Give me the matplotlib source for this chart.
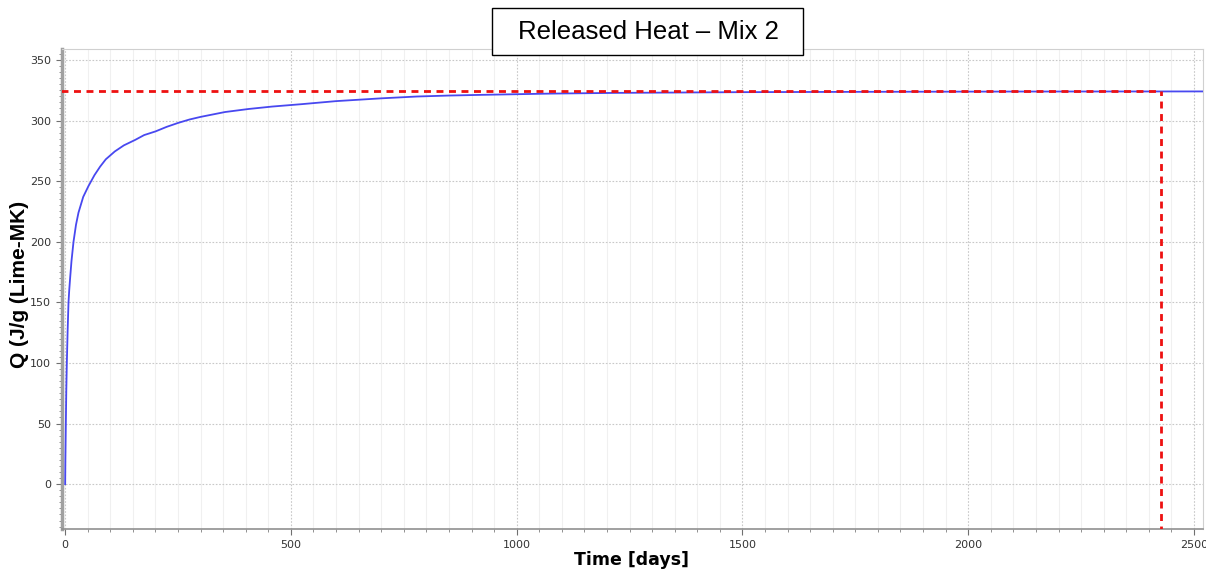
import matplotlib
matplotlib.use('Agg')
import matplotlib.pyplot as plt
from matplotlib.ticker import MultipleLocator
from matplotlib.patches import Rectangle

# values
time_days = [0, 0.5, 1.5, 2.5, 3.7, 5.5, 7.4, 9, 11, 14, 18.5, 24, 29.5, 40, 51.7, 65, 77.5,
             90, 110, 130, 155, 175, 200, 225, 250, 275, 300, 354, 406, 458, 524, 600, 700,
             779, 850, 926, 1074, 1221, 1500, 1800, 2100, 2520]
heat_q = [0, 20, 50, 77, 100, 127, 150, 160, 170, 184, 200, 214, 224, 237, 246, 255, 262,
          268, 274.5, 279.5, 284, 288, 291, 294.8, 298, 300.8, 303, 307, 309.5, 311.5, 313.5, 316, 318.3,
          319.8, 320.6, 321.2, 322.2, 322.8, 323.4, 323.7, 323.9, 324]
q_final = 324
t_final = 2427

fig = plt.figure(figsize=(12.06, 5.72), dpi=100)
ax = fig.add_axes([62/1206, 1 - 529/572, (1203-62)/1206, (529-49)/572])

ax.plot(time_days, heat_q, color='#4848f0', linewidth=1.3, zorder=3)
ax.plot([-10, t_final], [q_final, q_final], color='#ee1111', linestyle=(0, (2.5, 2)), linewidth=2, zorder=4)
ax.plot([t_final, t_final], [-40, q_final], color='#ee1111', linestyle=(0, (2.5, 2)), linewidth=2, zorder=4)

ax.set_xlim(-7, 2520)
ax.set_ylim(-37, 359)

ax.xaxis.set_major_locator(MultipleLocator(500))
ax.xaxis.set_minor_locator(MultipleLocator(50))
ax.yaxis.set_major_locator(MultipleLocator(50))
ax.yaxis.set_minor_locator(MultipleLocator(5))

ax.grid(which='minor', axis='x', color='#f0f0f0', linewidth=0.8, linestyle='-')
ax.grid(which='major', axis='x', color='#c8c8c8', linewidth=0.8, linestyle=(0, (1.5, 1.5)))
ax.grid(which='major', axis='y', color='#c8c8c8', linewidth=0.8, linestyle=(0, (1.5, 1.5)))
ax.set_axisbelow(True)

for side in ['top', 'right']:
    ax.spines[side].set_color('#d0d0d0')
    ax.spines[side].set_linewidth(0.8)
ax.spines['left'].set_color('#a0a0a0')
ax.spines['left'].set_linewidth(2.5)
ax.spines['bottom'].set_color('#909090')
ax.spines['bottom'].set_linewidth(1.2)

ax.tick_params(which='major', direction='out', length=4, color='#707070', labelsize=8,
               labelcolor='#333333', pad=4)
ax.tick_params(which='minor', direction='out', length=2, color='#808080')

ax.set_xlabel('Time [days]', fontsize=12.5, fontweight='bold', family='DejaVu Sans')
ax.xaxis.set_label_coords((632 - 62) / 1141, -(551 - 529) / 480)
ax.set_ylabel('Q (J/g (Lime-MK)', fontsize=15, fontweight='bold', family='Liberation Sans')
ax.yaxis.set_label_coords(-(62 - 29) / 1141, (529 - 284) / 480)

# title box
fig.patches.append(Rectangle((492/1206, 1 - 55/572), (803-492)/1206, 47/572,
                             transform=fig.transFigure, facecolor='white', edgecolor='black',
                             linewidth=1, zorder=10))
fig.text(648/1206, 1 - 32/572, 'Released Heat – Mix 2', ha='center', va='center',
         fontsize=18.5, family='Liberation Sans', zorder=11)

plt.savefig('out.png', dpi=100)
